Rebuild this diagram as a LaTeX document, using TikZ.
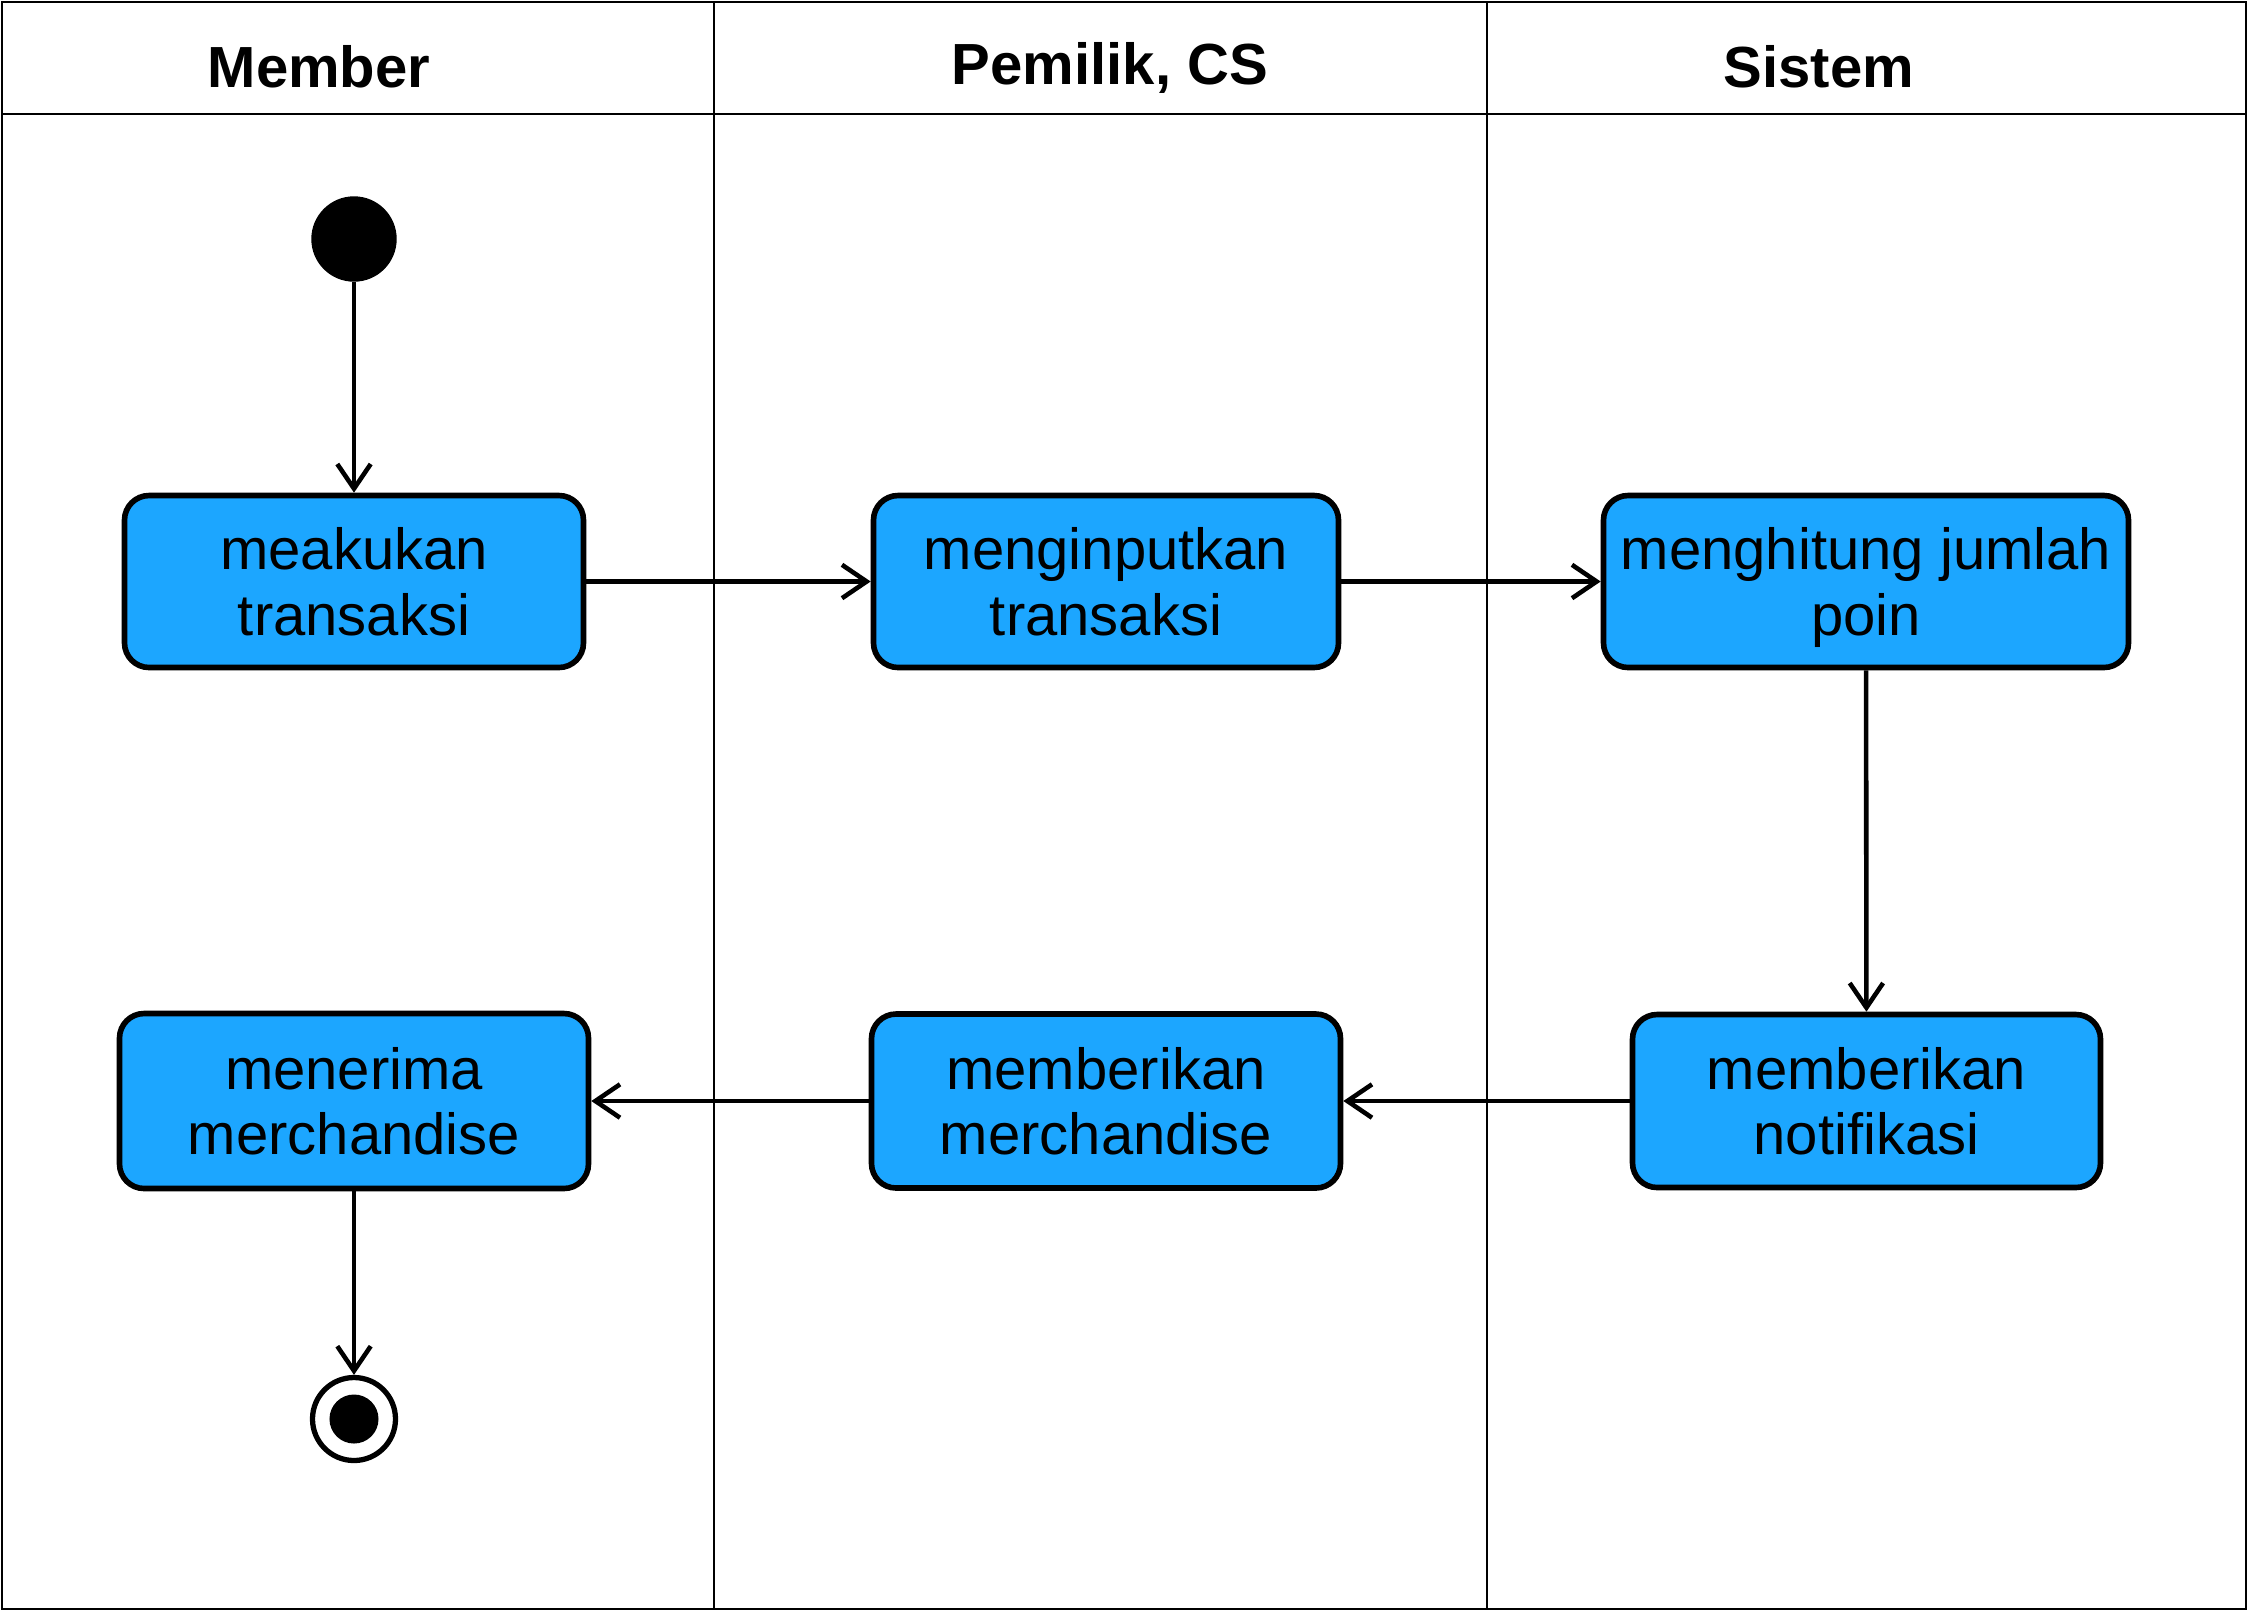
\documentclass[tikz,border=0pt]{standalone}
\usepackage{fontspec}
\setmainfont{Liberation Sans}
\usetikzlibrary{arrows.meta}
\definecolor{actblue}{RGB}{28,166,255}
\begin{document}
\begin{tikzpicture}[x=0.01cm,y=-0.01cm,
  lane/.style={draw=black,line width=0.75pt},
  lanehead/.style={font=\fontsize{16.5pt}{18.5pt}\selectfont\bfseries,anchor=base,inner sep=0pt},
  action/.style={draw=black,fill=actblue,line width=1.6pt,rounded corners=7pt,
    align=center,inner sep=0pt,text depth=0pt,font=\fontsize{16.5pt}{18.6pt}\selectfont},
  flow/.style={draw=black,line width=1.3pt,-{Straight Barb[length=7pt,width=9.5pt,line width=1.3pt]}},
  startnode/.style={circle,fill=black,draw=black,minimum size=84*0.01cm,inner sep=0pt},
  endnode/.style={circle,draw=black,fill=white,line width=1.5pt,minimum size=83*0.01cm,inner sep=0pt}
]
\useasboundingbox (0,0) rectangle (2248,1611);
% swimlanes
\draw[lane] (2,2) rectangle (2246,1609);
\draw[lane] (2,114) -- (2246,114);
\draw[lane] (714,2) -- (714,1609);
\draw[lane] (1487,2) -- (1487,1609);
\node[lanehead] (hmember) at (319,87) {Member};
\node[lanehead] (hpemilik) at (1110,84) {Pemilik, CS};
\node[lanehead] (hsistem) at (1819,87) {Sistem};
% nodes
\node[startnode] (start) at (354,239) {};
\node[action,minimum width=459*0.01cm,minimum height=172*0.01cm] (a1) at (354,581.5) {meakukan\\transaksi};
\node[action,minimum width=465*0.01cm,minimum height=172*0.01cm] (a2) at (1106,581.5) {menginputkan\\transaksi};
\node[action,minimum width=525*0.01cm,minimum height=172*0.01cm] (a3) at (1866,581.5) {menghitung jumlah\\poin};
\node[action,minimum width=468*0.01cm,minimum height=173*0.01cm] (a4) at (1866.5,1101) {memberikan\\notifikasi};
\node[action,minimum width=469*0.01cm,minimum height=174*0.01cm] (a5) at (1106,1101) {memberikan\\merchandise};
\node[action,minimum width=469*0.01cm,minimum height=175*0.01cm] (a6) at (354,1101) {menerima\\merchandise};
\node[endnode] (end) at (354,1419) {};
\fill[black] (end.center) circle (0.245cm);
% flows
\draw[flow] (start) -- (a1);
\draw[flow] (a1) -- (a2);
\draw[flow] (a2) -- (a3);
\draw[flow] (a3) -- (a4);
\draw[flow] (a4) -- (a5);
\draw[flow] (a5) -- (a6);
\draw[flow] (a6) -- (end);
\end{tikzpicture}
\end{document}
